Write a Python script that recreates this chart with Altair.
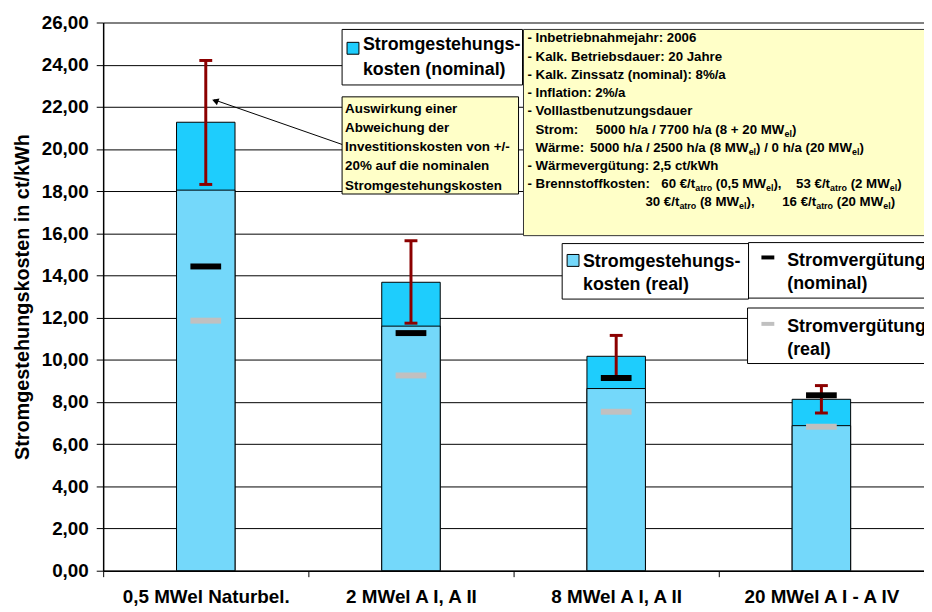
import altair as alt
import pandas as pd

# ---------------- data ----------------
categories = ["0,5 MWel Naturbel.", "2 MWel A I, A II", "8 MWel A I, A II", "20 MWel A I - A IV"]
cost_nominal = [21.27, 13.68, 10.17, 8.13]
cost_real = [18.05, 11.60, 8.64, 6.88]
err_low = [18.32, 11.74, 9.20, 7.48]
err_high = [24.20, 15.65, 11.16, 8.78]
verg_nominal = [14.43, 11.27, 9.14, 8.32]
verg_real = [11.86, 9.26, 7.54, 6.83]
y_ticks = [0, 2, 4, 6, 8, 10, 12, 14, 16, 18, 20, 22, 24, 26]

legend_nominal = "Stromgestehungs-\nkosten (nominal)"
legend_real = "Stromgestehungs-\nkosten (real)"
legend_verg_nom = "Stromvergütung\n(nominal)"
legend_verg_real = "Stromvergütung\n(real)"
note_text = "Auswirkung einer\nAbweichung der\nInvestitionskosten von +/-\n20% auf die nominalen\nStromgestehungskosten"

# info box: (line index, start x on page, runs); runs are (text, subscript?)
info_segments = [
    (0, 532, [("- Inbetriebnahmejahr: 2006", False)]),
    (1, 532, [("- Kalk. Betriebsdauer: 20 Jahre", False)]),
    (2, 532, [("- Kalk. Zinssatz (nominal): 8%/a", False)]),
    (3, 532, [("- Inflation: 2%/a", False)]),
    (4, 532, [("- Volllastbenutzungsdauer", False)]),
    (5, 540, [("Strom:", False)]),
    (5, 601, [("5000 h/a / 7700 h/a (8 + 20 MW", False), ("el", True), (")", False)]),
    (6, 540, [("Wärme:", False)]),
    (6, 595, [("5000 h/a / 2500 h/a (8 MW", False), ("el", True), (") / 0 h/a (20 MW", False),
              ("el", True), (")", False)]),
    (7, 532, [("- Wärmevergütung: 2,5 ct/kWh", False)]),
    (8, 532, [("- Brennstoffkosten:", False)]),
    (8, 667, [("60 €/t", False), ("atro", True), (" (0,5 MW", False), ("el", True), (("),"), False)]),
    (8, 803, [("53 €/t", False), ("atro", True), (" (2 MW", False), ("el", True), (")", False)]),
    (9, 651, [("30 €/t", False), ("atro", True), (" (8 MW", False), ("el", True), (("),"), False)]),
    (9, 789, [("16 €/t", False), ("atro", True), (" (20 MW", False), ("el", True), (")", False)]),
]

df = pd.DataFrame({
    "cat": categories,
    "nominal": cost_nominal,
    "real": cost_real,
    "lo": err_low,
    "hi": err_high,
    "vnom": verg_nominal,
    "vreal": verg_real,
})

FONT = "Liberation Sans, Arial, DejaVu Sans"
W, H = 828, 553
OX, OY = 104, 20  # plot origin on the page

def px(v):
    return v - OX

def py(v):
    return v - OY

# Arial/Liberation Sans Bold advance widths (per em)
AW = {" ": .278, "(": .333, ")": .333, "+": .584, ",": .278, "-": .333, ".": .278, "/": .278,
      ":": .333, "%": .889, "€": .556, "A": .722, "B": .722, "I": .278, "J": .556, "K": .722,
      "M": .833, "S": .667, "V": .667, "W": .944, "Z": .611, "a": .556, "b": .611, "c": .556,
      "d": .611, "e": .556, "f": .333, "g": .611, "h": .611, "i": .278, "j": .278, "k": .556,
      "l": .278, "m": .889, "n": .611, "o": .611, "r": .389, "s": .556, "t": .333, "u": .611,
      "v": .556, "z": .5, "ä": .556, "ü": .611}

def tw(s, size):
    return sum(AW.get(c, .556) for c in s) * size

x_enc = alt.X(
    "cat:N",
    sort=categories,
    scale=alt.Scale(domain=categories, paddingInner=0, paddingOuter=0),
    axis=alt.Axis(
        title=None, labelAngle=0, labelFont=FONT, labelFontSize=19,
        labelFontWeight="bold", labelColor="black", labelPadding=11,
        tickBand="extent", tickColor="black", tickSize=6, tickWidth=1,
        domainColor="black", domainWidth=1.5, grid=False,
    ),
)
y_scale = alt.Scale(domain=[0, 26], nice=False, zero=True)
y_axis = alt.Axis(
    values=y_ticks,
    labelExpr="replace(format(datum.value, '.2f'), '.', ',')",
    labelFont=FONT, labelFontSize=19, labelFontWeight="bold", labelColor="black",
    labelPadding=8, tickSize=7, tickColor="black", tickWidth=1,
    domainColor="black", domainWidth=1.5,
    grid=True, gridColor="black", gridWidth=1,
    title="Stromgestehungskosten in ct/kWh", titleFont=FONT, titleFontSize=20,
    titleFontWeight="bold", titleColor="black", titlePadding=9,
)

base = alt.Chart(df)
xc = alt.X("cat:N", sort=categories)

bar_nom = base.mark_bar(width={"band": 0.285}, color="#1ecdfd", stroke="black", strokeWidth=1).encode(
    x=x_enc, y=alt.Y("nominal:Q", scale=y_scale, axis=y_axis)
)
bar_real = base.mark_bar(width={"band": 0.285}, color="#74d8fa", stroke="black", strokeWidth=1).encode(
    x=xc, y=alt.Y("real:Q")
)
err = base.mark_rule(color="#8b0000", strokeWidth=3).encode(x=xc, y="lo:Q", y2="hi:Q")
cap_lo = base.mark_tick(color="#8b0000", thickness=3, size=13, opacity=1).encode(x=xc, y="lo:Q")
cap_hi = base.mark_tick(color="#8b0000", thickness=3, size=13, opacity=1).encode(x=xc, y="hi:Q")
m_nom = base.mark_tick(color="black", thickness=6, size=31, opacity=1).encode(x=xc, y="vnom:Q")
m_real = base.mark_tick(color="#c0c0c0", thickness=6, size=31, opacity=1).encode(x=xc, y="vreal:Q")

one = pd.DataFrame({"k": [0]})

def box(x1, y1, x2, y2, fill="white", stroke="black"):
    return alt.Chart(one).mark_rect(fill=fill, stroke=stroke, strokeWidth=1).encode(
        x=alt.value(px(x1)), x2=alt.value(px(x2)), y=alt.value(py(y1)), y2=alt.value(py(y2))
    )

def label(txt, x, y, size=18, lh=23):
    return alt.Chart(one).mark_text(
        align="left", baseline="alphabetic", font=FONT, fontSize=size,
        fontWeight="bold", color="black", lineBreak="\n", lineHeight=lh,
    ).encode(x=alt.value(px(x)), y=alt.value(py(y)), text=alt.value(txt))

def hline(x1, x2, y, color, width):
    return alt.Chart(one).mark_rule(color=color, strokeWidth=width).encode(
        x=alt.value(px(x1)), x2=alt.value(px(x2)), y=alt.value(py(y)), y2=alt.value(py(y)))

layers = [bar_nom, bar_real, err, cap_lo, cap_hi, m_nom, m_real]

# legend (nominal)
layers += [box(345, 27, 527, 83), box(350, 40, 362, 52, fill="#1ecdfd"),
           label(legend_nominal, 366, 48, lh=25)]
# note box + arrow
layers += [box(345, 95, 523, 193, fill="#ffffc8"), label(note_text, 348, 111, size=13.5, lh=19.4)]
layers += [alt.Chart(one).mark_rule(color="black", strokeWidth=1).encode(
               x=alt.value(px(345)), x2=alt.value(px(216)), y=alt.value(py(143)), y2=alt.value(py(98))),
           alt.Chart(one).mark_point(shape="triangle-up", filled=True, color="black", size=55,
                                     angle=290, opacity=1).encode(
               x=alt.value(px(217)), y=alt.value(py(99)))]
# info box with subscripts
INFO_FS, SUB_FS = 13.4, 9
layers += [box(528, 27, 945, 235, fill="#ffffc8", stroke="#333333")]
for line, x0, runs in info_segments:
    xx = x0
    yb = 40 + 18.4 * line
    for txt, sub in runs:
        fs = SUB_FS if sub else INFO_FS
        lead = len(txt) - len(txt.lstrip(" "))
        xx += tw(" " * lead, fs)
        body = txt.strip(" ")
        layers.append(label(body, xx, yb + (3 if sub else 0), size=fs, lh=fs))
        xx += tw(body, fs)
# legend (real)
layers += [box(567, 243, 755, 299), box(572, 254, 584, 266, fill="#74d8fa"),
           label(legend_real, 588, 267)]
# legend Stromvergütung nominal / real
layers += [box(755, 242, 945, 298), hline(768, 781, 257, "black", 4),
           label(legend_verg_nom, 794, 266)]
layers += [box(754, 308, 945, 364), hline(768, 781, 324, "#c0c0c0", 4),
           label(legend_verg_real, 794, 332)]

chart = alt.layer(*layers).properties(
    width=W, height=H,
    autosize=alt.AutoSizeParams(type="none"),
    padding={"left": 96, "top": 12, "right": 0, "bottom": 38},
    background="white",
).configure_view(strokeWidth=0)

chart.save("out.html", embed_options={"renderer": "svg", "actions": False})
